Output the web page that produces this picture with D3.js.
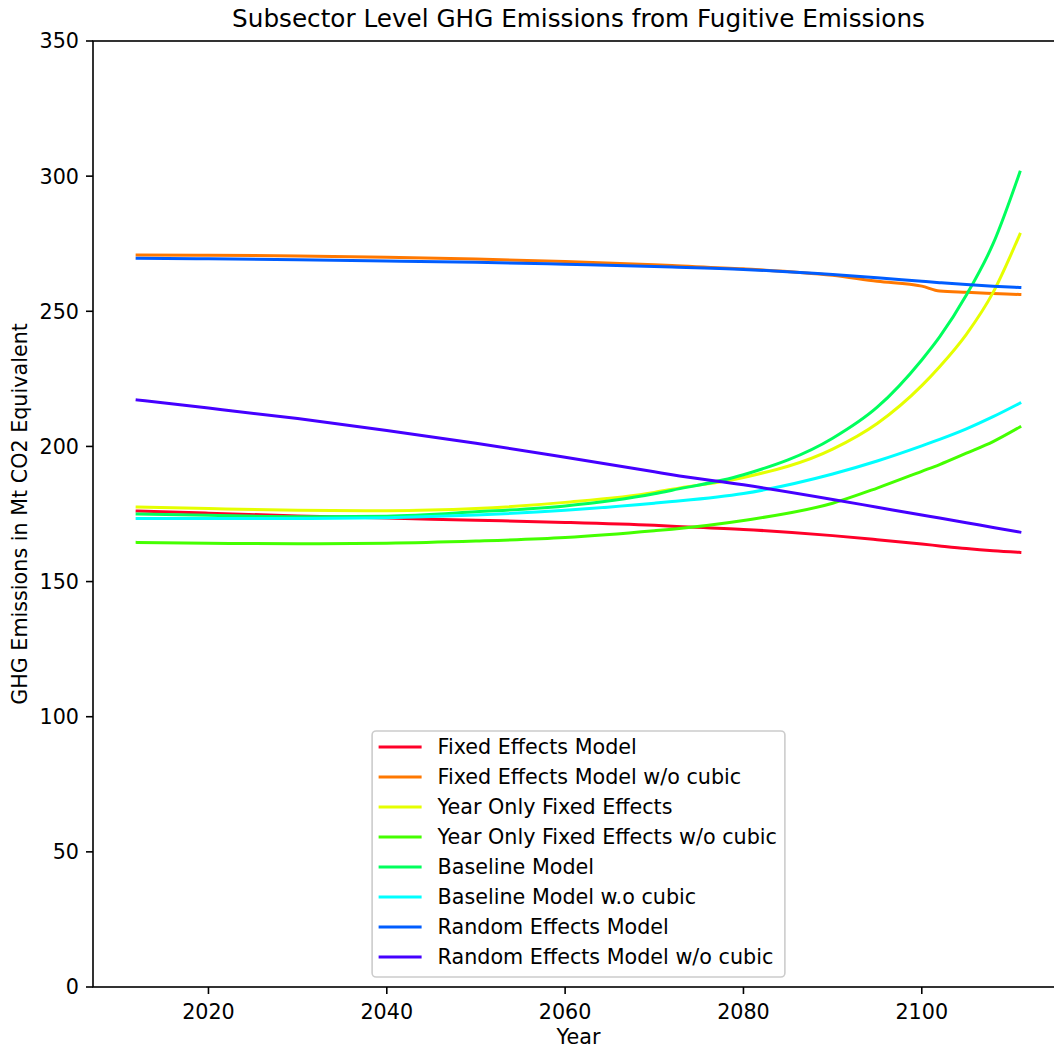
<!DOCTYPE html>
<html>
<head>
<meta charset="utf-8">
<script src="https://cdn.jsdelivr.net/npm/d3@7"></script>
<style>
  body { margin: 0; background: #fff; }
  svg { font-family: 'DejaVu Sans', sans-serif; }
</style>
</head>
<body>
<svg id="chart" width="1054" height="1053"></svg>
<script>
const years = [2012, 2020, 2030, 2040, 2050, 2060, 2070, 2072, 2080, 2090, 2095, 2100, 2102, 2105, 2108, 2111]

const fixedEffects       = [176.1, 175.3, 174.3, 173.5, 172.7, 171.9, 170.8, 170.5, 169.3, 167.0, 165.5, 163.9, 163.2, 162.2, 161.4, 160.8]
const fixedNoCubic       = [270.8, 270.7, 270.5, 270.0, 269.3, 268.4, 267.2, 266.9, 265.7, 263.3, 261.1, 259.3, 257.5, 257.0, 256.6, 256.2]
const yearOnly           = [177.6, 177.0, 176.4, 176.2, 177.0, 179.3, 183.0, 184.2, 188.5, 199.0, 208.5, 222.5, 229.5, 241.5, 257.0, 278.5]
const yearOnlyNoCubic    = [164.5, 164.2, 164.0, 164.2, 165.0, 166.3, 168.8, 169.4, 172.6, 179.0, 184.6, 190.8, 193.3, 197.5, 201.8, 207.2]
const baseline           = [175.0, 174.5, 174.0, 174.2, 175.8, 178.0, 182.5, 183.8, 189.5, 203.0, 214.5, 232.0, 240.5, 256.0, 275.0, 301.5]
const baselineNoCubic    = [173.3, 173.3, 173.3, 173.6, 174.6, 176.4, 179.0, 179.6, 182.6, 189.8, 194.6, 200.2, 202.6, 206.5, 211.0, 216.0]
const randomEffects      = [269.6, 269.4, 269.1, 268.6, 268.1, 267.4, 266.6, 266.4, 265.5, 263.6, 262.4, 261.1, 260.6, 259.9, 259.3, 258.8]
const randomNoCubic      = [217.2, 214.2, 210.3, 205.9, 201.2, 196.0, 190.6, 189.5, 185.8, 180.4, 177.5, 174.6, 173.5, 171.8, 170.0, 168.3]

const seriesNames = ['Fixed Effects Model', 'Fixed Effects Model w/o cubic', 'Year Only Fixed Effects',
  'Year Only Fixed Effects w/o cubic', 'Baseline Model', 'Baseline Model w.o cubic',
  'Random Effects Model', 'Random Effects Model w/o cubic']
const seriesValues = [fixedEffects, fixedNoCubic, yearOnly, yearOnlyNoCubic, baseline, baselineNoCubic, randomEffects, randomNoCubic]
const colors = ['#ff0029', '#ff7800', '#e5ff00', '#44ff00', '#00ff5d', '#00ffff', '#005dff', '#4500ff']

const xTicks = [2020, 2040, 2060, 2080, 2100]
const yTicks = [0, 50, 100, 150, 200, 250, 300, 350]

const svg = d3.select('#chart')
// right edge of the axes runs past the picture, as in the original (cropped) figure
const axLeft = 93, axRight = 1064, axTop = 41, axBottom = 987
const fs = 20.7

// matplotlib-style 5% margins on x
const x = d3.scaleLinear().domain([2012 - 4.95, 2111 + 4.95]).range([axLeft, axRight])
const y = d3.scaleLinear().domain([0, 350]).range([axBottom, axTop])

const line = d3.line()
  .x((d, i) => x(years[i]))
  .y(d => y(d))
  .curve(d3.curveMonotoneX)

svg.append('g')
  .selectAll('path')
  .data(seriesValues)
  .enter()
  .append('path')
  .attr('d', d => line(d))
  .attr('fill', 'none')
  .attr('stroke', (d, i) => colors[i])
  .attr('stroke-width', 3)
  .attr('stroke-linejoin', 'round')
  .attr('stroke-linecap', 'square')

// frame
svg.append('rect')
  .attr('x', axLeft).attr('y', axTop)
  .attr('width', axRight - axLeft).attr('height', axBottom - axTop)
  .attr('fill', 'none').attr('stroke', '#000').attr('stroke-width', 1.6)

// x axis
const xAxis = svg.append('g')
xAxis.selectAll('line').data(xTicks).enter().append('line')
  .attr('x1', d => x(d)).attr('x2', d => x(d))
  .attr('y1', axBottom).attr('y2', axBottom + 7)
  .attr('stroke', '#000').attr('stroke-width', 1.6)
xAxis.selectAll('text').data(xTicks).enter().append('text')
  .attr('x', d => x(d)).attr('y', 1019)
  .attr('text-anchor', 'middle')
  .style('font-size', fs + 'px')
  .text(d => d)

// y axis
const yAxis = svg.append('g')
yAxis.selectAll('line').data(yTicks).enter().append('line')
  .attr('x1', axLeft - 7).attr('x2', axLeft)
  .attr('y1', d => y(d)).attr('y2', d => y(d))
  .attr('stroke', '#000').attr('stroke-width', 1.6)
yAxis.selectAll('text').data(yTicks).enter().append('text')
  .attr('x', 79).attr('y', d => y(d) + 7.4)
  .attr('text-anchor', 'end')
  .style('font-size', fs + 'px')
  .text(d => d)

svg.append('text')
  .attr('x', (axLeft + axRight) / 2).attr('y', 1044)
  .attr('text-anchor', 'middle')
  .style('font-size', fs + 'px')
  .text('Year')

svg.append('text')
  .attr('transform', `translate(27, ${(axTop + axBottom) / 2}) rotate(-90)`)
  .attr('text-anchor', 'middle')
  .style('font-size', fs + 'px')
  .text('GHG Emissions in Mt CO2 Equivalent')

svg.append('text')
  .attr('x', (axLeft + axRight) / 2).attr('y', 27)
  .attr('text-anchor', 'middle')
  .style('font-size', '24.7px')
  .text('Subsector Level GHG Emissions from Fugitive Emissions')

// legend, lower center
const legend = svg.append('g')
const rowH = 30
const legBottom = axBottom - 10
const legTop = legBottom - 246
const legBox = legend.append('rect')
  .attr('y', legTop).attr('height', legBottom - legTop)
  .attr('rx', 4).attr('ry', 4)
  .attr('fill', 'rgba(255,255,255,0.8)')
  .attr('stroke', '#cccccc').attr('stroke-width', 1.6)

const rows = legend.selectAll('g.row')
  .data(seriesNames)
  .enter()
  .append('g').attr('class', 'row')

rows.append('line')
  .attr('x1', 6.5).attr('x2', 49.5)
  .attr('stroke', (d, i) => colors[i])
  .attr('stroke-width', 3)
rows.append('text')
  .attr('x', 65.5).attr('y', 7.3)
  .style('font-size', fs + 'px')
  .text(d => d)

let maxW = 0
rows.selectAll('text').each(function() { maxW = Math.max(maxW, this.getComputedTextLength()) })
const legW = 65.5 + maxW + 8
const legX = (axLeft + axRight) / 2 - legW / 2
legBox.attr('x', legX).attr('width', legW)
rows.attr('transform', (d, i) => `translate(${legX}, ${legTop + 16 + i * rowH})`)
</script>
</body>
</html>
